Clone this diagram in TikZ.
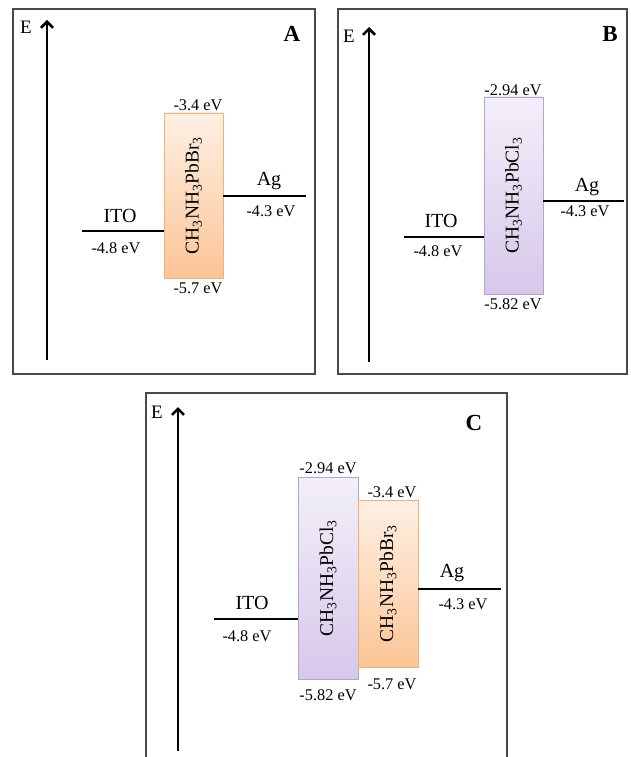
\documentclass[tikz,border=0pt]{standalone}
\usepackage{fontspec}
\setmainfont{Liberation Serif}
\usetikzlibrary{arrows.meta}
\definecolor{framegray}{HTML}{4A4A4A}
\definecolor{orgtop}{HTML}{FEF0E4}
\definecolor{orgbot}{HTML}{FBC596}
\definecolor{orgline}{HTML}{F4AE78}
\definecolor{purtop}{HTML}{F3EFF9}
\definecolor{purbot}{HTML}{D6C8EA}
\definecolor{purline}{HTML}{B3A2D2}
\tikzset{
  panelframe/.style={draw=framegray, line width=1.1pt},
  eaxis/.style={line width=2.6pt, -{Straight Barb[length=6pt,width=12pt]}},
  level/.style={line width=2.6pt},
  orgbox/.style={draw=orgline, line width=0.8pt, top color=orgtop, bottom color=orgbot, inner sep=0pt},
  purbox/.style={draw=purline, line width=0.8pt, top color=purtop, bottom color=purbot, inner sep=0pt},
  mol/.style={rotate=90, font=\fontsize{19.5}{22}\selectfont},
  elab/.style={font=\fontsize{16.3}{18}\selectfont, inner sep=0pt},
  mlab/.style={font=\fontsize{20}{22}\selectfont, inner sep=0pt},
  elet/.style={font=\fontsize{19}{21}\selectfont, inner sep=0pt},
  plet/.style={font=\fontsize{23}{25}\selectfont\bfseries, inner sep=0pt},
}
\newcommand{\brmol}{CH\textsubscript{3}NH\textsubscript{3}PbBr\textsubscript{3}}
\newcommand{\clmol}{CH\textsubscript{3}NH\textsubscript{3}PbCl\textsubscript{3}}
\begin{document}
\begin{tikzpicture}[x=1pt, y=-1pt]
\useasboundingbox (0,0) rectangle (631,757);
% ---------------- Panel A ----------------
\draw[panelframe] (13,9) rectangle (315,374);
\coordinate (aAbot) at (47,360);
\coordinate (aAtop) at (47,20);
\draw[eaxis] (aAbot) -- (aAtop);
\node[elet] (eA) at (26,27) {E};
\node[plet] (pA) at (292,34) {A};
\node[orgbox, minimum width=59pt, minimum height=165pt] (boxA) at (193.5,195.5) {};
\node[mol] (molA) at (boxA.center) {\brmol};
\coordinate (itoA) at (82,231);
\draw[level] (itoA) -- (itoA -| boxA.west);
\coordinate (agA) at (306,196);
\draw[level] (agA -| boxA.east) -- (agA);
\node[mlab] (itoAl) at (120,216) {ITO};
\node[elab] (itoAv) at (116,248) {-4.8 eV};
\node[mlab] (agAl) at (269,181) {Ag};
\node[elab] (agAv) at (271,211) {-4.3 eV};
\node[elab] (cbA) at (198,105) {-3.4 eV};
\node[elab] (vbA) at (198,288) {-5.7 eV};
% ---------------- Panel B ----------------
\draw[panelframe] (338,9) rectangle (627,374);
\coordinate (aBbot) at (369,362);
\coordinate (aBtop) at (369,27);
\draw[eaxis] (aBbot) -- (aBtop);
\node[elet] (eB) at (349,36) {E};
\node[plet] (pB) at (610,34) {B};
\node[purbox, minimum width=59pt, minimum height=197pt] (boxB) at (513.5,195.5) {};
\node[mol] (molB) at (boxB.center) {\clmol};
\coordinate (itoB) at (404,237);
\draw[level] (itoB) -- (itoB -| boxB.west);
\coordinate (agB) at (624,201);
\draw[level] (agB -| boxB.east) -- (agB);
\node[mlab] (itoBl) at (441,221) {ITO};
\node[elab] (itoBv) at (438,251) {-4.8 eV};
\node[mlab] (agBl) at (587,187) {Ag};
\node[elab] (agBv) at (585,211) {-4.3 eV};
\node[elab] (cbB) at (513,90) {-2.94 eV};
\node[elab] (vbB) at (513,304) {-5.82 eV};
% ---------------- Panel C ----------------
\coordinate (fC1) at (146,757);
\coordinate (fC2) at (146,393);
\coordinate (fC3) at (507,393);
\coordinate (fC4) at (507,757);
\draw[panelframe] (fC1) -- (fC2) -- (fC3) -- (fC4);
\coordinate (aCbot) at (178,751);
\coordinate (aCtop) at (178,407);
\draw[eaxis] (aCbot) -- (aCtop);
\node[elet] (eC) at (157,412) {E};
\node[plet] (pC) at (474,423) {C};
\node[purbox, minimum width=60pt, minimum height=202pt] (boxCl) at (328,578) {};
\node[mol] (molCl) at (boxCl.center) {\clmol};
\node[orgbox, minimum width=60pt, minimum height=167pt] (boxBr) at (388,583.5) {};
\node[mol] (molBr) at (boxBr.center) {\brmol};
\coordinate (itoC) at (214,619);
\draw[level] (itoC) -- (itoC -| boxCl.west);
\coordinate (agC) at (501,589);
\draw[level] (agC -| boxBr.east) -- (agC);
\node[mlab] (itoCl) at (252,603) {ITO};
\node[elab] (itoCv) at (247,636) {-4.8 eV};
\node[mlab] (agCl) at (452,573) {Ag};
\node[elab] (agCv) at (463,604) {-4.3 eV};
\node[elab] (cbCl) at (328,468) {-2.94 eV};
\node[elab] (cbBr) at (392,492) {-3.4 eV};
\node[elab] (vbBr) at (392,684) {-5.7 eV};
\node[elab] (vbCl) at (328,695) {-5.82 eV};
\end{tikzpicture}
\end{document}
